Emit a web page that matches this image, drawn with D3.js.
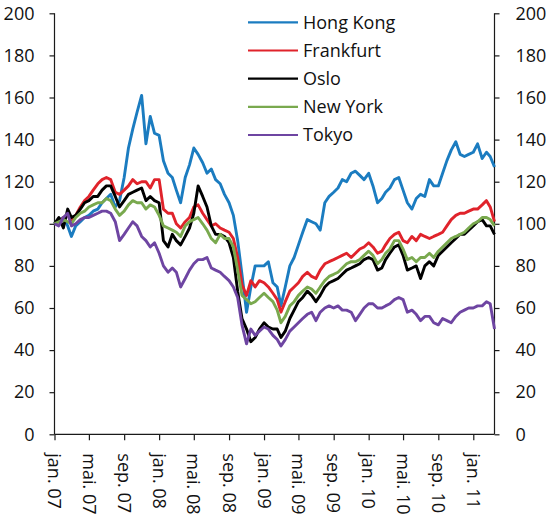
<!DOCTYPE html>
<html>
<head>
<meta charset="utf-8">
<script src="https://cdn.jsdelivr.net/npm/d3@7"></script>
<style>
html,body{margin:0;padding:0;background:#fff;}
svg{display:block;font-family:"Open Sans",sans-serif;}
</style>
</head>
<body>
<svg id="chart" width="550" height="521"></svg>
<script>
const dates = [
"2007-01-01","2007-01-16","2007-02-01","2007-02-16","2007-03-01","2007-03-16","2007-04-01","2007-04-16","2007-05-01","2007-05-16","2007-06-01","2007-06-16",
"2007-07-01","2007-07-16","2007-08-01","2007-08-16","2007-09-01","2007-09-16","2007-10-01","2007-10-16","2007-11-01","2007-11-16","2007-12-01","2007-12-16",
"2008-01-01","2008-01-16","2008-02-01","2008-02-16","2008-03-01","2008-03-16","2008-04-01","2008-04-16","2008-05-01","2008-05-16","2008-06-01","2008-06-16",
"2008-07-01","2008-07-16","2008-08-01","2008-08-16","2008-09-01","2008-09-16","2008-10-01","2008-10-16","2008-11-01","2008-11-16","2008-12-01","2008-12-16",
"2009-01-01","2009-01-16","2009-02-01","2009-02-16","2009-03-01","2009-03-16","2009-04-01","2009-04-16","2009-05-01","2009-05-16","2009-06-01","2009-06-16",
"2009-07-01","2009-07-16","2009-08-01","2009-08-16","2009-09-01","2009-09-16","2009-10-01","2009-10-16","2009-11-01","2009-11-16","2009-12-01","2009-12-16",
"2010-01-01","2010-01-16","2010-02-01","2010-02-16","2010-03-01","2010-03-16","2010-04-01","2010-04-16","2010-05-01","2010-05-16","2010-06-01","2010-06-16",
"2010-07-01","2010-07-16","2010-08-01","2010-08-16","2010-09-01","2010-09-16","2010-10-01","2010-10-16","2010-11-01","2010-11-16","2010-12-01","2010-12-16",
"2011-01-01","2011-01-16","2011-02-01","2011-02-16","2011-03-01","2011-03-16"];

const hongKong = [
100,102,103,99,94,99,101,103,104,106,107,110,
112,114,108,111,122,136,145,153,161,138,151,143,
142,130,124,122,116,110,122,128,136,133,129,124,
126,121,119,114,110,104,92,76,58,70,80,80,
80,82,72,70,61,70,80,84,90,96,102,101,
100,97,110,113,115,117,121,120,124,125,123,121,
124,118,110,112,115,117,121,122,116,110,107,112,
114,113,121,118,118,124,130,135,139,133,132,133,
134,138,131,134,132,127];

const frankfurt = [
100,101,103,104,102,104,108,111,113,116,119,121,
122,121,115,114,116,118,121,119,120,120,117,121,
121,107,105,105,100,98,101,103,108,109,105,102,
99,100,98,97,96,93,84,71,66,73,70,73,
72,70,67,64,58,63,68,70,72,75,77,75,
74,78,81,82,83,84,85,86,84,86,88,89,
91,89,86,87,90,93,95,96,92,91,94,92,
95,94,93,94,95,96,99,102,104,105,105,106,
107,107,109,111,108,101];

const oslo = [
100,103,98,107,103,104,107,110,111,113,113,116,
118,118,113,108,111,114,115,116,117,111,113,111,
110,92,89,95,92,90,94,98,105,118,113,108,
99,95,95,94,91,84,68,55,50,44,46,50,
53,51,50,50,46,49,55,59,63,65,68,66,
63,66,70,72,73,74,76,78,79,80,81,83,
84,83,78,79,83,86,89,90,85,78,79,80,
74,80,82,80,85,87,89,91,93,95,95,97,
99,101,102,99,99,95];

const newYork = [
100,101,102,101,100,103,105,106,108,109,110,110,
112,111,107,104,106,109,111,110,110,107,109,108,
104,99,98,97,96,94,99,101,102,103,100,97,
93,91,95,93,93,89,78,66,64,62,63,65,
67,65,63,59,53,56,61,63,66,68,70,69,
67,70,73,75,76,77,79,81,82,82,83,85,
87,85,81,83,86,88,92,92,88,83,84,82,
84,84,86,84,87,89,91,93,94,95,96,98,
100,101,103,103,102,99];

const tokyo = [
100,99,103,105,99,100,102,103,103,104,105,106,
106,105,101,92,95,98,101,99,94,92,89,91,
86,80,77,79,77,70,74,78,81,83,83,84,
79,78,77,75,73,70,65,52,43,50,47,49,
51,50,47,45,42,45,49,51,53,55,57,58,
54,58,60,61,60,61,59,59,58,54,57,60,
62,62,60,60,61,62,64,65,64,58,59,57,
54,56,56,53,52,55,54,53,56,58,59,60,
60,61,61,63,62,50];

const seriesNames = ["Hong Kong","Frankfurt","Oslo","New York","Tokyo"];
const seriesColors = ["#1b7cc0","#e0232b","#000000","#79a94e","#6e45a2"];
const yTicks = [0,20,40,60,80,100,120,140,160,180,200];
const xTickDates = ["2007-01-01","2007-05-01","2007-09-01","2008-01-01","2008-05-01","2008-09-01","2009-01-01","2009-05-01","2009-09-01","2010-01-01","2010-05-01","2010-09-01","2011-01-01"];
const xTickLabels = ["jan. 07","mai. 07","sep. 07","jan. 08","mai. 08","sep. 08","jan. 09","mai. 09","sep. 09","jan. 10","mai. 10","sep. 10","jan. 11"];

(function () {
const parse = d3.timeParse("%Y-%m-%d");
const seriesValues = [hongKong, frankfurt, oslo, newYork, tokyo];
const series = seriesNames.map((name, k) => ({
  name, color: seriesColors[k],
  values: dates.map((d, i) => ({date: parse(d), v: seriesValues[k][i]}))
}));

const svg = d3.select("#chart");
const pLeft = 54.5, pRight = 494.5, pTop = 13.3, pBottom = 434.3;

const x = d3.scaleTime()
  .domain([parse("2007-01-01"), parse("2011-03-16")])
  .range([pLeft, pRight]);
const y = d3.scaleLinear().domain([0, 200]).range([pBottom, pTop]);

const axisColor = "#1a1a1a";
const fontSize = 18;

const gL = svg.append("g").attr("transform", `translate(${pLeft},0)`)
  .call(d3.axisLeft(y).tickValues(yTicks).tickSize(5).tickPadding(15).tickFormat(d3.format("d")));
const gR = svg.append("g").attr("transform", `translate(${pRight},0)`)
  .call(d3.axisRight(y).tickValues(yTicks).tickSize(5).tickPadding(16).tickFormat(d3.format("d")));
const tickDates = xTickDates.map(parse);
const gB = svg.append("g").attr("transform", `translate(0,${pBottom})`)
  .call(d3.axisBottom(x).tickValues(tickDates).tickSize(6)
    .tickFormat((d, i) => xTickLabels[i]));
gB.selectAll("text")
  .attr("transform", "rotate(90)")
  .attr("x", 19).attr("y", 0).attr("dy", "0.38em")
  .style("text-anchor", "start");

[gL, gR, gB].forEach(g => {
  g.select(".domain").attr("stroke", axisColor).attr("stroke-width", 1.2);
  g.selectAll(".tick line").attr("stroke", axisColor).attr("stroke-width", 1.2);
  g.selectAll("text").attr("fill", "#111").style("font-size", fontSize + "px")
    .style("font-family", '"Open Sans", sans-serif');
});
gL.select(".domain").attr("d", `M0,${pTop}V${pBottom}`);
gR.select(".domain").attr("d", `M0,${pTop}V${pBottom}`);
gB.select(".domain").attr("d", `M${pLeft},0H${pRight}`);

const line = d3.line().x(d => x(d.date)).y(d => y(d.v)).curve(d3.curveLinear);
svg.append("g").selectAll("path").data(series).join("path")
  .attr("d", d => line(d.values))
  .attr("fill", "none")
  .attr("stroke", d => d.color)
  .attr("stroke-width", 2.9)
  .attr("stroke-linejoin", "round");

const lg = svg.append("g");
const rowY = d3.scalePoint().domain(seriesNames).range([22.3, 135]);
const rows = lg.selectAll("g").data(series).join("g")
  .attr("transform", d => `translate(0,${rowY(d.name)})`);
rows.append("line").attr("x1", 248).attr("x2", 298).attr("y1", 0).attr("y2", 0)
  .attr("stroke", d => d.color).attr("stroke-width", 2.2);
rows.append("text").attr("x", 303).attr("y", 0).attr("dy", "0.35em")
  .style("font-size", fontSize + "px").attr("fill", "#111")
  .text(d => d.name);
})();
</script>
</body>
</html>
